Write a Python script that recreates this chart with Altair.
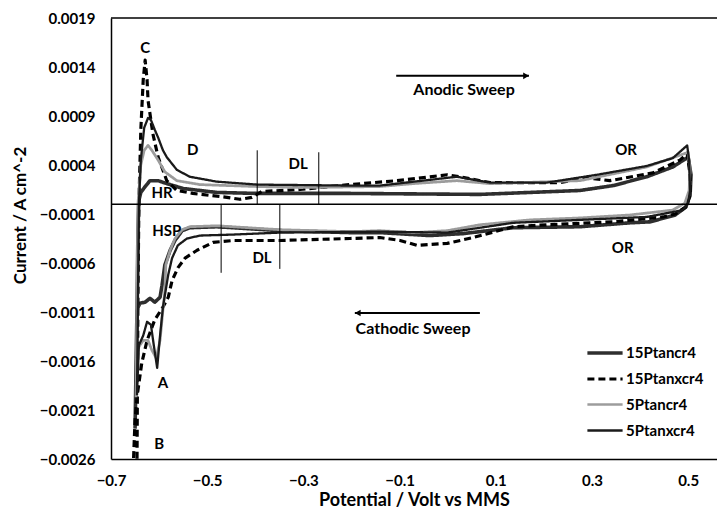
import altair as alt
import pandas as pd

SERIES = ["15Ptancr4", "15Ptanxcr4", "5Ptancr4", "5Ptanxcr4"]
COLORS = ["#2e2e2e", "#000000", "#9c9c9c", "#1a1a1a"]
WIDTHS = [3.6, 2.3, 4.2, 1.1]
DASHES = [[1, 0], [7, 4], [1, 0], [1, 0]]

X_TICKS = [-0.7, -0.5, -0.3, -0.1, 0.1, 0.3, 0.5]
Y_TICKS = [-0.0026, -0.0021, -0.0016, -0.0011, -0.0006, -0.0001, 0.0004, 0.0009, 0.0014, 0.0019]

# ---- 15Ptancr4 (thick dark) ----
p15_V_an = [-0.650, -0.646, -0.644, -0.642, -0.638, -0.629, -0.619, -0.602, -0.584, -0.550,
            -0.480, -0.396, -0.203, 0.067, 0.275, 0.344, 0.414, 0.468, 0.500]
p15_I_an = [-0.00229, -0.00118, -0.00027, 0.00004, 0.00012, 0.00018, 0.00024, 0.00024, 0.00021, 0.00016,
            0.00012, 0.00011, 0.00011, 0.00010, 0.00014, 0.00019, 0.00028, 0.00038, 0.00048]
p15_V_ca = [0.506, 0.504, 0.495, 0.473, 0.421, 0.379, 0.275, 0.136, 0.032, -0.037,
            -0.141, -0.203, -0.349, -0.480, -0.536, -0.552, -0.567, -0.577, -0.588, -0.594,
            -0.598, -0.609, -0.619, -0.629, -0.640, -0.646, -0.648, -0.650]
p15_I_ca = [0.00030, 0.00009, -0.00003, -0.00011, -0.00018, -0.00019, -0.00023, -0.00024, -0.00030, -0.00032,
            -0.00029, -0.00029, -0.00027, -0.00023, -0.00024, -0.00027, -0.00037, -0.00047, -0.00062, -0.00083,
            -0.00095, -0.00100, -0.00096, -0.00100, -0.00101, -0.00108, -0.00169, -0.00229]

# ---- 15Ptanxcr4 (dashed) ----
p15x_V_an = [-0.646, -0.644, -0.642, -0.638, -0.633, -0.629, -0.625, -0.623, -0.613, -0.602,
             -0.584, -0.563, -0.530, -0.494, -0.459, -0.432, -0.407, -0.386, -0.307, -0.203,
             -0.105, -0.001, 0.026, 0.088, 0.233, 0.290, 0.337, 0.427, 0.483, 0.498]
p15x_I_an = [-0.00271, -0.00098, 0.0, 0.00076, 0.00127, 0.00147, 0.00127, 0.00106, 0.00072, 0.00048,
             0.00024, 0.00014, 0.00011, 0.00009, 0.00007, 0.00005, 0.00007, 0.00013, 0.00015, 0.00020,
             0.00024, 0.00030, 0.00028, 0.00022, 0.00022, 0.00027, 0.00024, 0.00032, 0.00045, 0.00052]
p15x_V_ca = [0.504, 0.504, 0.495, 0.473, 0.448, 0.344, 0.206, 0.136, 0.053, -0.001,
             -0.064, -0.099, -0.141, -0.203, -0.349, -0.446, -0.488, -0.521, -0.546, -0.561,
             -0.573, -0.581, -0.592, -0.609, -0.625, -0.636, -0.646, -0.650, -0.654]
p15x_I_ca = [0.00030, 0.00009, -0.00003, -0.00010, -0.00013, -0.00018, -0.00021, -0.00023, -0.00034, -0.00040,
             -0.00042, -0.00037, -0.00034, -0.00035, -0.00037, -0.00037, -0.00039, -0.00047, -0.00055, -0.00065,
             -0.00078, -0.00095, -0.00105, -0.00118, -0.00139, -0.00162, -0.00197, -0.00220, -0.00271]

# ---- 5Ptancr4 (thick grey) ----
p5_V_an = [-0.648, -0.646, -0.644, -0.638, -0.631, -0.623, -0.615, -0.602, -0.588, -0.563,
           -0.515, -0.396, -0.307, -0.141, -0.072, 0.019, 0.088, 0.275, 0.414, 0.483, 0.500]
p5_I_an = [-0.00197, -0.00098, 0.0, 0.00040, 0.00055, 0.00060, 0.00055, 0.00045, 0.00033, 0.00024,
           0.00020, 0.00018, 0.00017, 0.00018, 0.00021, 0.00024, 0.00021, 0.00024, 0.00038, 0.00050, 0.00053]
p5_V_ca = [0.504, 0.502, 0.493, 0.468, 0.379, 0.275, 0.171, 0.067, -0.001, -0.072,
           -0.141, -0.203, -0.349, -0.480, -0.536, -0.552, -0.567, -0.577, -0.586, -0.588,
           -0.592, -0.598, -0.606, -0.615, -0.623, -0.633, -0.640, -0.646, -0.648]
p5_I_ca = [0.00035, 0.00014, 0.00001, -0.00006, -0.00011, -0.00014, -0.00016, -0.00021, -0.00027, -0.00029,
           -0.00027, -0.00028, -0.00026, -0.00022, -0.00023, -0.00026, -0.00035, -0.00047, -0.00062, -0.00088,
           -0.00108, -0.00139, -0.00157, -0.00149, -0.00139, -0.00139, -0.00144, -0.00149, -0.00197]

# ---- 5Ptanxcr4 (thin) ----
p5x_V_an = [-0.646, -0.644, -0.642, -0.638, -0.631, -0.623, -0.617, -0.609, -0.602, -0.592,
            -0.584, -0.563, -0.536, -0.480, -0.396, -0.203, -0.141, 0.019, 0.088, 0.206,
            0.310, 0.414, 0.468, 0.498]
p5x_I_an = [-0.00195, -0.00098, 0.0, 0.00045, 0.00078, 0.00088, 0.00086, 0.00076, 0.00068, 0.00055,
            0.00048, 0.00035, 0.00028, 0.00023, 0.00020, 0.00019, 0.00019, 0.00028, 0.00022, 0.00022,
            0.00030, 0.00039, 0.00047, 0.00060]
p5x_V_ca = [0.502, 0.504, 0.500, 0.489, 0.414, 0.275, 0.136, -0.001, -0.141, -0.349,
            -0.446, -0.515, -0.542, -0.561, -0.573, -0.581, -0.588, -0.592, -0.598, -0.604,
            -0.611, -0.617, -0.625, -0.633, -0.642, -0.646]
p5x_I_ca = [0.00045, 0.00014, 0.00001, -0.00006, -0.00013, -0.00016, -0.00019, -0.00029, -0.00028, -0.00029,
            -0.00031, -0.00032, -0.00035, -0.00042, -0.00055, -0.00072, -0.00093, -0.00105, -0.00134, -0.00167,
            -0.00144, -0.00123, -0.00120, -0.00134, -0.00144, -0.00195]

# ---- annotations ----
ann_text = ["C", "D", "DL", "HR", "HSP", "DL", "A", "B", "OR", "OR"]
ann_V = [-0.629, -0.530, -0.311, -0.594, -0.584, -0.386, -0.592, -0.600, 0.371, 0.364]
ann_I = [0.00159, 0.00055, 0.00041, 0.00011, -0.00027, -0.00055, -0.00182, -0.00245, 0.00055, -0.00045]

sweep_text = ["Anodic Sweep", "Cathodic Sweep"]
sweep_V = [0.034, -0.072]
sweep_I = [0.00117, -0.00127]

div_V = [-0.396, -0.268, -0.471, -0.349]
div_I1 = [0.00055, 0.00053, 0.0, 0.0]
div_I2 = [0.0, 0.0, -0.00070, -0.00066]

arrow_V1 = [-0.107, 0.067]
arrow_V2 = [0.169, -0.193]
arrow_I = [0.00131, -0.00111]
head_V = [0.163, -0.187]
head_shape = ["triangle-right", "triangle-left"]

hline_I = [0.0, 0.0019]

rows = []
for name, Vs, Is in [
    ("15Ptancr4", p15_V_an + p15_V_ca, p15_I_an + p15_I_ca),
    ("15Ptanxcr4", p15x_V_an + p15x_V_ca, p15x_I_an + p15x_I_ca),
    ("5Ptancr4", p5_V_an + p5_V_ca, p5_I_an + p5_I_ca),
    ("5Ptanxcr4", p5x_V_an + p5x_V_ca, p5x_I_an + p5x_I_ca),
]:
    for k, (v, i) in enumerate(zip(Vs, Is, strict=True)):
        rows.append({"series": name, "k": k, "V": v, "I": i})
df = pd.DataFrame(rows)

FONT = "Lato"
x_scale = alt.Scale(domain=[-0.7, 0.56], nice=False, zero=False)
y_scale = alt.Scale(domain=[-0.0026, 0.0019], nice=False, zero=False)

x_ax = alt.Axis(values=X_TICKS, format=".1f", title="Potential / Volt vs MMS", grid=False, ticks=False,
                domainColor="black", domainWidth=1.5, labelFont=FONT, labelFontWeight="bold",
                labelFontSize=15, labelColor="black", labelPadding=14, labelFlush=False,
                titleFont=FONT, titleFontWeight="bold", titleFontSize=18, titleColor="black", titlePadding=3)
y_ax = alt.Axis(values=Y_TICKS, format=".4f", title="Current / A cm^-2", grid=False, ticks=False,
                domainColor="black", domainWidth=1.5, labelFont=FONT, labelFontWeight="bold",
                labelFontSize=15, labelColor="black", labelPadding=16, labelFlush=False,
                titleFont=FONT, titleFontWeight="bold", titleFontSize=17, titleColor="black", titlePadding=10,
                titleY=197)

legend = alt.Legend(orient="none", legendX=481, legendY=322, symbolType="M-1.6,0H1.6", symbolSize=484,
                    labelFont=FONT, labelFontWeight="bold", labelFontSize=15, labelColor="black",
                    labelOffset=8, rowPadding=5, padding=0, title=None)

curves = alt.Chart(df).mark_line(clip=True, strokeJoin="round").encode(
    x=alt.X("V:Q", scale=x_scale, axis=x_ax),
    y=alt.Y("I:Q", scale=y_scale, axis=y_ax),
    order="k:Q",
    color=alt.Color("series:N", scale=alt.Scale(domain=SERIES, range=COLORS), legend=legend),
    strokeWidth=alt.StrokeWidth("series:N", scale=alt.Scale(domain=SERIES, range=WIDTHS), legend=legend),
    strokeDash=alt.StrokeDash("series:N", scale=alt.Scale(domain=SERIES, range=DASHES), legend=legend),
)

hlines = alt.Chart(pd.DataFrame({"I": hline_I})).mark_rule(color="black", strokeWidth=1.5).encode(
    y=alt.Y("I:Q", scale=y_scale, axis=y_ax)
)

dividers = alt.Chart(pd.DataFrame({"V": div_V, "I": div_I1, "I2": div_I2})).mark_rule(
    color="black", strokeWidth=1).encode(
    x=alt.X("V:Q", scale=x_scale, axis=x_ax),
    y=alt.Y("I:Q", scale=y_scale, axis=y_ax),
    y2="I2:Q",
)

arrows = alt.Chart(pd.DataFrame({"V": arrow_V1, "V2": arrow_V2, "I": arrow_I})).mark_rule(
    color="black", strokeWidth=2).encode(
    x=alt.X("V:Q", scale=x_scale, axis=x_ax),
    x2="V2:Q",
    y=alt.Y("I:Q", scale=y_scale, axis=y_ax),
)

heads = alt.Chart(pd.DataFrame({"V": head_V, "I": arrow_I, "shape": head_shape})).mark_point(
    filled=True, color="black", size=45, opacity=1).encode(
    x=alt.X("V:Q", scale=x_scale, axis=x_ax),
    y=alt.Y("I:Q", scale=y_scale, axis=y_ax),
    shape=alt.Shape("shape:N", scale=None),
)

texts = alt.Chart(pd.DataFrame({"V": ann_V, "I": ann_I, "t": ann_text})).mark_text(
    font=FONT, fontWeight="bold", fontSize=15, color="black", align="center", baseline="middle").encode(
    x=alt.X("V:Q", scale=x_scale, axis=x_ax),
    y=alt.Y("I:Q", scale=y_scale, axis=y_ax),
    text="t:N",
)

sweeps = alt.Chart(pd.DataFrame({"V": sweep_V, "I": sweep_I, "t": sweep_text})).mark_text(
    font=FONT, fontWeight="bold", fontSize=16, color="black", align="center", baseline="middle").encode(
    x=alt.X("V:Q", scale=x_scale, axis=x_ax),
    y=alt.Y("I:Q", scale=y_scale, axis=y_ax),
    text="t:N",
)

chart = alt.layer(curves, hlines, dividers, arrows, heads, texts, sweeps).properties(
    width=606, height=441,
    autosize=alt.AutoSizeParams(type="none"),
    padding={"left": 103, "top": 10, "right": 0, "bottom": 49},
    background="white",
).configure_view(stroke="transparent")

chart.save("out.html", embed_options={"renderer": "svg", "actions": False})
